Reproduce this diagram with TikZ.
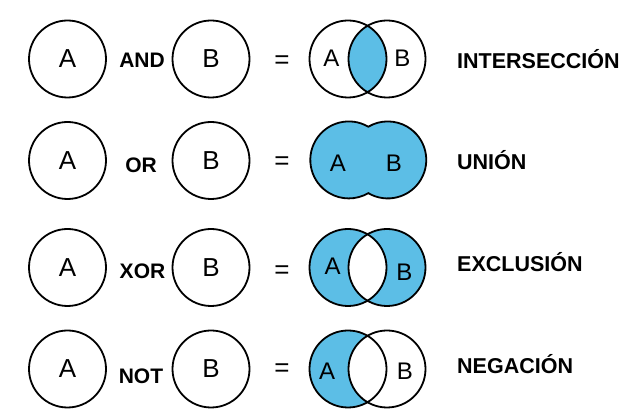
\documentclass[tikz,border=0pt]{standalone}
\usepackage{fontspec}
\setmainfont{Liberation Sans}
\usepackage{tikz}
\usetikzlibrary{backgrounds}
\definecolor{vennblue}{RGB}{92,190,230}

\tikzset{
  setcirc/.style={circle, draw, line width=1.8pt, minimum size=77pt, inner sep=0pt,
    font=\fontsize{26}{26}\selectfont},
  venncirc/.style={circle, draw, line width=1.8pt, minimum size=77pt, inner sep=0pt},
  vennletter/.style={inner sep=0pt, font=\fontsize{24}{24}\selectfont},
  oplabel/.style={inner sep=0pt, font=\fontsize{21}{21}\selectfont\bfseries},
  eqsign/.style={inner sep=0pt, font=\fontsize{26}{26}\selectfont},
  resultlabel/.style={inner sep=0pt, anchor=base west, font=\fontsize{21.5}{21.5}\selectfont\bfseries}
}

\begin{document}
\begin{tikzpicture}[x=1pt, y=1pt]
    \useasboundingbox (0,0) rectangle (641,420);

    % fila 1: interseccion
    \node[setcirc] (a1) at (67.5,361) {A};
    \node[setcirc] (b1) at (211,361) {B};
    \node[oplabel] (op1) at (142,359.5) {AND};
    \node[eqsign] (eq1) at (282,358.3) {=};
    \node[venncirc] (v1a) at (348,361) {};
    \node[venncirc] (v1b) at (387,361) {};
    \begin{scope}[on background layer]
        \begin{scope}
            \clip (v1a.center) circle[radius=38.5pt];
            \fill[vennblue] (v1b.center) circle[radius=38.5pt];
        \end{scope}
    \end{scope}
    \node[vennletter] (l1a) at (331.3,361.7) {A};
    \node[vennletter] (l1b) at (402.5,362) {B};
    \node[resultlabel] (r1) at (457,351.7) {INTERSECCIÓN};

    % fila 2: union
    \node[setcirc] (a2) at (67.5,259.5) {A};
    \node[setcirc] (b2) at (211,259.5) {B};
    \node[oplabel] (op2) at (141,254.7) {OR};
    \node[eqsign] (eq2) at (282,257.3) {=};
    \node[venncirc, draw=none] (v2a) at (348,259.5) {};
    \node[venncirc, draw=none] (v2b) at (387,259.5) {};
    \draw[line width=1.8pt, fill=vennblue] (v2a.59.6)
        arc[start angle=59.6, end angle=300.4, radius=38.5pt]
        arc[start angle=239.6, end angle=480.4, radius=38.5pt] -- cycle;
    \node[vennletter] (l2a) at (338,256.7) {A};
    \node[vennletter] (l2b) at (394,256.7) {B};
    \node[resultlabel] (r2) at (457,250.7) {UNIÓN};

    % fila 3: exclusion
    \node[setcirc] (a3) at (67.5,152.5) {A};
    \node[setcirc] (b3) at (211,152.5) {B};
    \node[oplabel] (op3) at (142.5,148.3) {XOR};
    \node[eqsign] (eq3) at (282,148.3) {=};
    \node[venncirc] (v3a) at (348,152.5) {};
    \node[venncirc] (v3b) at (387,152.5) {};
    \begin{scope}[on background layer]
        \fill[vennblue, even odd rule] (v3a.center) circle[radius=38.5pt]
            (v3b.center) circle[radius=38.5pt];
    \end{scope}
    \node[vennletter] (l3a) at (332.7,153.8) {A};
    \node[vennletter] (l3b) at (404.5,147.3) {B};
    \node[resultlabel] (r3) at (457,148.3) {EXCLUSIÓN};

    % fila 4: negacion
    \node[setcirc] (a4) at (67.5,51) {A};
    \node[setcirc] (b4) at (211,51) {B};
    \node[oplabel] (op4) at (141,44.2) {NOT};
    \node[eqsign] (eq4) at (282,50) {=};
    \node[venncirc] (v4a) at (348,51) {};
    \node[venncirc] (v4b) at (387,51) {};
    \begin{scope}[on background layer]
        \fill[vennblue] (v4a.center) circle[radius=38.5pt];
        \fill[white] (v4b.center) circle[radius=38.5pt];
    \end{scope}
    \node[vennletter] (l4a) at (327.2,48.3) {A};
    \node[vennletter] (l4b) at (405,48.7) {B};
    \node[resultlabel] (r4) at (457,46.7) {NEGACIÓN};
\end{tikzpicture}
\end{document}
